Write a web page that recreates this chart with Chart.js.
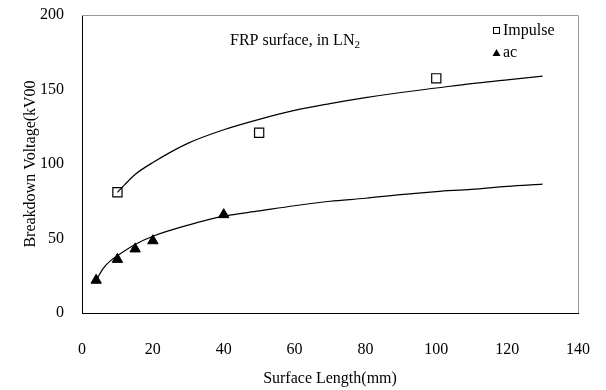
<!DOCTYPE html>
<html>
<head>
<meta charset="utf-8">
<script src="https://cdn.jsdelivr.net/npm/chart.js@4"></script>
<style>
  html, body { margin: 0; padding: 0; background: #fff; }
  #wrap { width: 606px; height: 390px; }
</style>
</head>
<body>
<div id="wrap"><canvas id="bdChart" width="606" height="390"></canvas></div>
<script>
// measured points
const impulseLength = [10, 50, 100];
const impulseVoltage = [81, 121, 157.5];
const acLength = [4, 10, 15, 20, 40];
const acVoltage = [22, 36, 43, 48.5, 66];

// fitted curves
const impulseFitLength = [10, 12, 15, 20, 30, 40, 50, 60, 70, 80, 90, 100, 110, 120, 130];
const impulseFitVoltage = [81, 86, 93, 101, 114, 123, 130, 136, 140.5, 144.5, 148, 151, 154, 156.5, 159];
const acFitLength = [4, 6, 8, 10, 15, 20, 30, 40, 50, 60, 70, 80, 90, 100, 110, 120, 130];
const acFitVoltage = [22, 30, 35, 38.5, 46, 51.5, 59, 65, 68.5, 72, 75, 77, 79.5, 81.5, 83, 85, 86.5];

const xTicks = [0, 20, 40, 60, 80, 100, 120, 140];
const yTicks = [0, 50, 100, 150, 200];

const serif = "'Liberation Serif', 'DejaVu Serif', serif";

function toPoints(xs, ys) {
    return xs.map((x, i) => ({ x: x, y: ys[i] }));
}

// frame (top/right edges), note text and legend
const extras = {
    id: 'extras',
    afterDraw(chart) {
        const { ctx, chartArea } = chart;
        ctx.save();
        ctx.strokeStyle = '#9a9a9a';
        ctx.lineWidth = 1;
        ctx.beginPath();
        ctx.moveTo(chartArea.left, chartArea.top + 0.5);
        ctx.lineTo(chartArea.right + 0.5, chartArea.top + 0.5);
        ctx.lineTo(chartArea.right + 0.5, chartArea.bottom);
        ctx.stroke();

        ctx.fillStyle = '#000';
        ctx.textBaseline = 'middle';
        ctx.font = '16px ' + serif;
        const note = 'FRP surface, in LN';
        ctx.fillText(note, 230, 41);
        const w = ctx.measureText(note).width;
        ctx.font = '11px ' + serif;
        ctx.fillText('2', 230 + w, 45);

        // legend
        ctx.font = '16px ' + serif;
        ctx.strokeStyle = '#000';
        ctx.lineWidth = 1;
        ctx.strokeRect(493.5, 27.5, 6, 6);
        ctx.fillText('Impulse', 503, 31);
        ctx.beginPath();
        ctx.moveTo(496.5, 49);
        ctx.lineTo(500.5, 56);
        ctx.lineTo(492.5, 56);
        ctx.closePath();
        ctx.fill();
        ctx.fillText('ac', 503, 53);
        ctx.restore();
    }
};

const ctx = document.getElementById('bdChart').getContext('2d');
const bdChart = new Chart(ctx, {
    type: 'scatter',
    data: {
        datasets: [
            {
                label: 'Impulse fit',
                data: toPoints(impulseFitLength, impulseFitVoltage),
                showLine: true,
                borderColor: '#000',
                borderWidth: 1.2,
                pointRadius: 0,
                cubicInterpolationMode: 'monotone'
            },
            {
                label: 'ac fit',
                data: toPoints(acFitLength, acFitVoltage),
                showLine: true,
                borderColor: '#000',
                borderWidth: 1.2,
                pointRadius: 0,
                cubicInterpolationMode: 'monotone'
            },
            {
                label: 'Impulse',
                data: toPoints(impulseLength, impulseVoltage),
                pointStyle: 'rect',
                pointRadius: 6.5,
                backgroundColor: '#fff',
                borderColor: '#000',
                borderWidth: 1.2
            },
            {
                label: 'ac',
                data: toPoints(acLength, acVoltage),
                pointStyle: 'triangle',
                pointRadius: 6,
                backgroundColor: '#000',
                borderColor: '#000',
                borderWidth: 1
            }
        ]
    },
    options: {
        responsive: false,
        animation: false,
        layout: { padding: { top: 15, right: 28, left: 0, bottom: 0 } },
        plugins: {
            legend: { display: false },
            tooltip: { enabled: false }
        },
        scales: {
            x: {
                type: 'linear',
                min: xTicks[0],
                max: xTicks[xTicks.length - 1],
                afterBuildTicks: axis => { axis.ticks = xTicks.map(v => ({ value: v })); },
                afterFit: axis => {
                    axis.height = 77;
                    axis.paddingLeft = 0;
                    axis.paddingRight = 0;
                },
                grid: { display: false, drawTicks: false },
                border: { display: true, color: '#000', width: 1 },
                ticks: { color: '#000', padding: 27, font: { family: serif, size: 16 } },
                title: {
                    display: true,
                    text: 'Surface Length(mm)',
                    color: '#000',
                    font: { family: serif, size: 16 },
                    padding: { top: 0, bottom: 2 }
                }
            },
            y: {
                min: yTicks[0],
                max: yTicks[yTicks.length - 1],
                afterBuildTicks: axis => { axis.ticks = yTicks.map(v => ({ value: v })); },
                afterFit: axis => {
                    axis.width = 82;
                    axis.paddingTop = 0;
                    axis.paddingBottom = 0;
                },
                grid: { display: false, drawTicks: false },
                border: { display: true, color: '#000', width: 1 },
                ticks: { color: '#000', padding: 18, font: { family: serif, size: 16 } },
                title: {
                    display: true,
                    text: 'Breakdown Voltage(kV00',
                    color: '#000',
                    font: { family: serif, size: 16 },
                    padding: { top: 21, bottom: 0 }
                }
            }
        }
    },
    plugins: [extras]
});
</script>
</body>
</html>
